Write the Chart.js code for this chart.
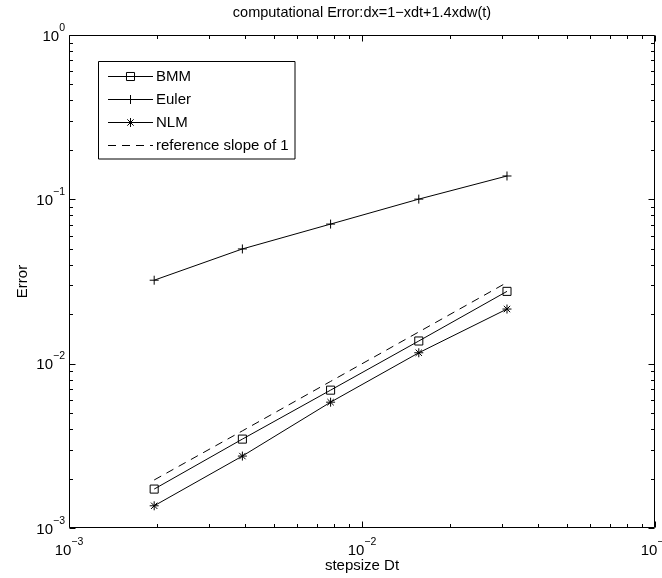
<!DOCTYPE html>
<html><head><meta charset="utf-8">
<script src="https://cdn.jsdelivr.net/npm/chart.js@4/dist/chart.umd.min.js"></script>
<style>html,body{margin:0;padding:0;background:#fff}#wrap{width:662px;height:578px;position:relative}</style>
</head><body><div id="wrap"><canvas id="c" width="662" height="578"></canvas></div>
<script>
// ---- data ----
const stepsizes = [0.001953125, 0.00390625, 0.0078125, 0.015625, 0.03125];
const bmmError = [0.001725, 0.003475, 0.0069, 0.01374, 0.02754];
const eulerError = [0.0322, 0.0499, 0.0707, 0.1003, 0.1387];
const nlmError = [0.001365, 0.00274, 0.00583, 0.01165, 0.0215];
const referenceSlope = [0.00196, 0.0039, 0.0078, 0.0156, 0.0312];
const seriesNames = ['BMM', 'Euler', 'NLM', 'reference slope of 1'];
const xDecadeExponents = [-3, -2, -1];
const yDecadeExponents = [-3, -2, -1, 0];
const titleText = 'computational Error:dx=1\u2212xdt+1.4xdw(t)';
const xTitleText = 'stepsize Dt';
const yTitleText = 'Error';

const FONT = '"Liberation Sans", Arial, Helvetica, sans-serif';
const pts = (ys) => stepsizes.map((x, i) => ({x: x, y: ys[i]}));

const markerStyles = ['rect', 'cross', 'star', null];
const markerRadii = [5.7, 4.5, 4.5, 0];

function drawMarker(ctx, style, r, x, y) {
  ctx.beginPath();
  if (style === 'rect') {
    const s = Math.SQRT1_2 * r;
    ctx.rect(x - s, y - s, 2 * s, 2 * s);
  } else if (style === 'cross' || style === 'star') {
    ctx.moveTo(x, y - r); ctx.lineTo(x, y + r);
    ctx.moveTo(x - r, y); ctx.lineTo(x + r, y);
    if (style === 'star') {
      const o = Math.SQRT1_2 * r;
      ctx.moveTo(x - o, y - o); ctx.lineTo(x + o, y + o);
      ctx.moveTo(x - o, y + o); ctx.lineTo(x + o, y - o);
    }
  }
  ctx.stroke();
}

function drawPow(ctx, exp, x, y, mode) {
  const base = '10';
  const sup = (exp < 0 ? '\u2212' : '') + Math.abs(exp);
  ctx.font = '15px ' + FONT;
  const wb = ctx.measureText(base).width;
  ctx.font = '10.5px ' + FONT;
  const ws = ctx.measureText(sup).width;
  let start, baseY;
  if (mode === 'x') { start = x - (wb + ws) / 2; baseY = y; }
  else { start = x - (wb + ws); baseY = y + 5.5; }
  ctx.textAlign = 'left';
  ctx.textBaseline = 'alphabetic';
  ctx.font = '15px ' + FONT;
  ctx.fillText(base, start, baseY);
  ctx.font = '10.5px ' + FONT;
  ctx.fillText(sup, start + wb, baseY - 10);
}

const matlabAxes = {
  id: 'matlabAxes',
  afterDraw(chart) {
    const ctx = chart.ctx;
    const a = chart.chartArea;
    const xs = chart.scales.x, ys = chart.scales.y;
    ctx.save();
    ctx.strokeStyle = '#000';
    ctx.fillStyle = '#000';
    ctx.lineWidth = 1;
    ctx.setLineDash([]);
    // box
    const L = Math.round(a.left) + 0.5, R = Math.round(a.right) - 0.5;
    const T = Math.round(a.top) + 0.5, B = Math.round(a.bottom) - 0.5;
    ctx.beginPath();
    ctx.rect(L, T, R - L, B - T);
    ctx.stroke();
    // x ticks
    ctx.beginPath();
    xDecadeExponents.forEach(e => {
      for (let m = 1; m <= 9; m++) {
        const v = m * Math.pow(10, e);
        if (v > xs.max * 1.0001) break;
        const px = Math.round(xs.getPixelForValue(v)) + 0.5;
        const len = m === 1 ? 6 : 3.5;
        ctx.moveTo(px, B); ctx.lineTo(px, B - len);
        ctx.moveTo(px, T); ctx.lineTo(px, T + len);
      }
    });
    yDecadeExponents.forEach(e => {
      for (let m = 1; m <= 9; m++) {
        const v = m * Math.pow(10, e);
        if (v > ys.max * 1.0001) break;
        const py = Math.round(ys.getPixelForValue(v)) + 0.5;
        const len = m === 1 ? 6 : 3.5;
        ctx.moveTo(L, py); ctx.lineTo(L + len, py);
        ctx.moveTo(R, py); ctx.lineTo(R - len, py);
      }
    });
    ctx.stroke();
    // tick labels
    xDecadeExponents.forEach(e => {
      drawPow(ctx, e, xs.getPixelForValue(Math.pow(10, e)), a.bottom + 27, 'x');
    });
    yDecadeExponents.forEach(e => {
      drawPow(ctx, e, a.left - 4, ys.getPixelForValue(Math.pow(10, e)), 'y');
    });
    // title & axis titles
    const cx = (a.left + a.right) / 2;
    ctx.font = '14.5px ' + FONT;
    ctx.textAlign = 'center';
    ctx.textBaseline = 'alphabetic';
    ctx.fillText(titleText, cx, 17);
    ctx.font = '15px ' + FONT;
    ctx.fillText(xTitleText, cx, a.bottom + 42);
    ctx.save();
    ctx.translate(27, (a.top + a.bottom) / 2);
    ctx.rotate(-Math.PI / 2);
    ctx.textBaseline = 'alphabetic';
    ctx.fillText(yTitleText, 0, 0);
    ctx.restore();
    // legend
    const lx = 98.5, ly = 61.5, lw = 196.5, lh = 97.5;
    ctx.fillStyle = '#fff';
    ctx.fillRect(lx, ly, lw, lh);
    ctx.strokeStyle = '#000';
    ctx.beginPath(); ctx.rect(lx, ly, lw, lh); ctx.stroke();
    ctx.fillStyle = '#000';
    const rowY = [76, 99, 121.5, 144.5];
    seriesNames.forEach((name, i) => {
      const y = Math.round(rowY[i]) + 0.5;
      ctx.beginPath();
      if (i === 3) ctx.setLineDash([8, 6]); else ctx.setLineDash([]);
      ctx.moveTo(108, y); ctx.lineTo(153, y);
      ctx.stroke();
      ctx.setLineDash([]);
      if (markerStyles[i]) drawMarker(ctx, markerStyles[i], markerRadii[i], 130.5, y);
      ctx.font = '15px ' + FONT;
      ctx.textAlign = 'left';
      ctx.textBaseline = 'middle';
      ctx.fillText(name, 156, y + 0.5);
    });
    ctx.restore();
  }
};

const seriesData = [bmmError, eulerError, nlmError, referenceSlope];
const datasets = seriesNames.map((name, i) => ({
  label: name,
  data: pts(seriesData[i]),
  showLine: true,
  borderColor: '#000',
  borderWidth: 1,
  borderDash: i === 3 ? [8, 6] : [],
  pointStyle: markerStyles[i] || 'circle',
  pointRadius: markerRadii[i],
  pointHoverRadius: markerRadii[i],
  pointBorderColor: '#000',
  pointBackgroundColor: 'rgba(0,0,0,0)',
  pointBorderWidth: 1,
  tension: 0,
  fill: false
}));

new Chart(document.getElementById('c'), {
  type: 'scatter',
  data: { datasets: datasets },
  options: {
    responsive: false,
    animation: false,
    devicePixelRatio: 1,
    layout: { padding: { left: 69, right: 7, top: 35, bottom: 50 } },
    plugins: { legend: { display: false }, title: { display: false }, tooltip: { enabled: false } },
    events: [],
    scales: {
      x: { type: 'logarithmic', min: 0.001, max: 0.1,
           ticks: { display: false }, grid: { display: false, drawTicks: false }, border: { display: false }, title: { display: false } },
      y: { type: 'logarithmic', min: 0.001, max: 1,
           ticks: { display: false }, grid: { display: false, drawTicks: false }, border: { display: false }, title: { display: false } }
    }
  },
  plugins: [matlabAxes]
});
</script>
</body></html>
